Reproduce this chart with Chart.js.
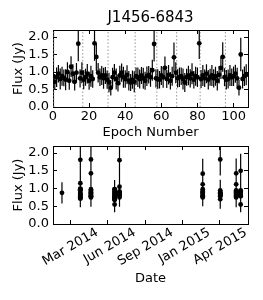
<!DOCTYPE html>
<html>
<head>
<meta charset="utf-8">
<script src="https://cdn.jsdelivr.net/npm/chart.js@4.4.1/dist/chart.umd.min.js"></script>
<style>
html, body { margin: 0; padding: 0; background: #fff; }
#wrap { position: relative; width: 263px; height: 300px; }
canvas { position: absolute; left: 0; }
#topChart { top: 0; }
#bottomChart { top: 140px; }
</style>
</head>
<body>
<div id="wrap">
  <canvas id="topChart" width="263" height="145"></canvas>
  <canvas id="bottomChart" width="263" height="160"></canvas>
</div>
<script>
// Flux per epoch (Jy)
const flux = [
  0.88, 0.72, 0.85, 0.95, 0.80, 0.88, 0.83, 0.78, 1.00, 0.75,
  1.15, 0.95, 0.72, 0.98, 1.81, 0.82, 0.98, 0.78, 0.85, 0.95,
  0.75, 0.88, 0.80, 1.82, 1.43, 0.98, 0.85, 0.90, 0.82, 0.90,
  0.78, 0.70, 0.55, 0.85, 0.98, 0.80, 0.68, 0.90, 0.98, 0.85,
  0.80, 0.92, 0.75, 0.70, 0.78, 0.72, 0.88, 0.85, 0.80, 0.90,
  0.82, 0.75, 0.88, 0.92, 0.85, 1.05, 1.80, 0.82, 0.80, 0.78,
  0.90, 0.85, 1.12, 0.80, 0.92, 0.75, 0.88, 1.42, 0.98, 0.82,
  0.85, 0.88, 0.80, 0.70, 0.85, 0.90, 0.82, 0.95, 0.78, 0.88,
  0.85, 1.82, 0.80, 0.90, 0.82, 0.95, 0.78, 0.85, 0.90, 0.82,
  0.88, 0.75, 0.92, 1.12, 1.43, 0.85, 0.78, 0.80, 0.90, 0.85,
  0.88, 0.95, 0.82, 0.55, 1.50, 0.80, 0.88, 0.92
];

// 1-sigma errors (Jy)
const fluxErr = [
  0.30, 0.22, 0.28, 0.25, 0.30, 0.27, 0.24, 0.30, 0.28, 0.26,
  0.30, 0.27, 0.25, 0.28, 0.50, 0.26, 0.30, 0.27, 0.24, 0.28,
  0.26, 0.30, 0.25, 0.50, 0.40, 0.28, 0.25, 0.27, 0.30, 0.24,
  0.26, 0.28, 0.22, 0.27, 0.25, 0.30, 0.24, 0.28, 0.26, 0.30,
  0.25, 0.27, 0.28, 0.24, 0.26, 0.30, 0.25, 0.28, 0.27, 0.24,
  0.30, 0.26, 0.28, 0.25, 0.27, 0.30, 0.50, 0.26, 0.28, 0.25,
  0.27, 0.30, 0.32, 0.26, 0.28, 0.25, 0.27, 0.42, 0.30, 0.26,
  0.28, 0.25, 0.30, 0.27, 0.24, 0.28, 0.26, 0.30, 0.25, 0.27,
  0.28, 0.45, 0.26, 0.30, 0.25, 0.27, 0.28, 0.24, 0.30, 0.26,
  0.27, 0.28, 0.25, 0.32, 0.42, 0.26, 0.28, 0.27, 0.30, 0.25,
  0.28, 0.26, 0.30, 0.22, 0.48, 0.27, 0.28, 0.30
];

// Observing sessions: first epoch of each and its date (days since 2014-01-01)
const sessionStarts = [0, 1, 17, 31, 46, 58, 69, 82, 96];
const sessionDays = [39, 84, 110, 168, 180, 384, 427, 466, 477];

// Date axis ticks (days since 2014-01-01) and their labels
const dateTickDays = [59, 151, 243, 334, 424];
const dateTickLabels = ['Mar 2014', 'Jun 2014', 'Sep 2014', 'Jan 2015', 'Apr 2015'];

const epochTicks = [0, 20, 40, 60, 80, 100];
const fluxTicks = [0.0, 0.5, 1.0, 1.5, 2.0];

const FLUX_MAX = 2.2;

Chart.defaults.font.family = 'DejaVu Sans';
Chart.defaults.color = '#000';

// date of each epoch, from the session it belongs to
function epochDay(i) {
  let d = sessionDays[0];
  sessionStarts.forEach((s, k) => { if (i >= s) d = sessionDays[k]; });
  return d;
}

// vertical segments broken by nulls, so one line dataset draws many bars
function errorSegments(xs) {
  const pts = [];
  xs.forEach((x, i) => {
    pts.push({ x: x, y: flux[i] - fluxErr[i] });
    pts.push({ x: x, y: flux[i] + fluxErr[i] });
    pts.push({ x: x, y: null });
  });
  return pts;
}

const epochs = flux.map((f, i) => i);
const days = flux.map((f, i) => epochDay(i));

const breakLines = [];
sessionStarts.slice(1).forEach(s => {
  breakLines.push({ x: s - 0.5, y: 0 });
  breakLines.push({ x: s - 0.5, y: FLUX_MAX });
  breakLines.push({ x: s - 0.5, y: null });
});

function pointsSet(xs) {
  return {
    data: xs.map((x, i) => ({ x: x, y: flux[i] })),
    showLine: false,
    pointRadius: 2.4,
    pointBackgroundColor: '#000',
    pointBorderColor: '#000',
    pointBorderWidth: 0
  };
}

function errorSet(xs) {
  return {
    data: errorSegments(xs),
    showLine: true,
    spanGaps: false,
    borderColor: '#000',
    borderWidth: 1.2,
    pointRadius: 0
  };
}

// inward ticks on all four sides, boxed frame
function axisBase(extra) {
  return Object.assign({
    type: 'linear',
    grid: { drawOnChartArea: false, drawTicks: true, tickLength: -4, color: '#000', lineWidth: 1 },
    border: { display: true, color: '#000', width: 1 }
  }, extra);
}

function yAxes() {
  return {
    y: axisBase({
      position: 'left',
      min: 0, max: FLUX_MAX,
      afterBuildTicks: s => { s.ticks = fluxTicks.map(v => ({ value: v })); },
      afterFit: s => { s.width = 53; s.paddingTop = 0; s.paddingBottom = 0; },
      ticks: { font: { size: 13 }, padding: 8, autoSkip: false, callback: v => v.toFixed(1) },
      title: { display: true, text: 'Flux (Jy)', font: { size: 13 }, padding: { top: 11, bottom: 0 } }
    }),
    y2: axisBase({
      position: 'right',
      min: 0, max: FLUX_MAX,
      afterBuildTicks: s => { s.ticks = fluxTicks.map(v => ({ value: v })); },
      afterFit: s => { s.width = 0; s.paddingTop = 0; s.paddingBottom = 0; },
      ticks: { display: false, autoSkip: false }
    })
  };
}

const baseOptions = {
  responsive: false,
  animation: false,
  events: [],
  plugins: { legend: { display: false }, tooltip: { enabled: false } }
};

// Top panel: flux vs epoch
new Chart(document.getElementById('topChart'), {
  type: 'scatter',
  data: {
    datasets: [
      pointsSet(epochs),
      errorSet(epochs),
      {
        data: breakLines,
        showLine: true,
        spanGaps: false,
        borderColor: '#999',
        borderWidth: 1,
        borderDash: [1.5, 2],
        pointRadius: 0
      }
    ]
  },
  options: Object.assign({}, baseOptions, {
    layout: { padding: { top: 0, right: 15, left: 0, bottom: 0 } },
    scales: Object.assign({
      x: axisBase({
        position: 'bottom',
        min: 0, max: 108,
        afterBuildTicks: s => { s.ticks = epochTicks.map(v => ({ value: v })); },
        afterFit: s => { s.height = 38; },
        ticks: { font: { size: 13 }, padding: 6, autoSkip: false },
        title: { display: true, text: 'Epoch Number', font: { size: 13 }, padding: { top: 0, bottom: 5 } }
      }),
      // top axis carries the inward ticks and the plot title, centred on the plot area
      x2: axisBase({
        position: 'top',
        min: 0, max: 108,
        afterBuildTicks: s => { s.ticks = epochTicks.map(v => ({ value: v })); },
        afterFit: s => { s.height = 30; },
        ticks: { display: false, autoSkip: false },
        title: { display: true, text: 'J1456-6843', font: { size: 15 }, padding: { top: 9, bottom: 0 } }
      })
    }, yAxes())
  })
});

// Bottom panel: flux vs date
new Chart(document.getElementById('bottomChart'), {
  type: 'scatter',
  data: {
    datasets: [
      pointsSet(days),
      errorSet(days)
    ]
  },
  options: Object.assign({}, baseOptions, {
    layout: { padding: { top: 6, right: 15, left: 0, bottom: 0 } },
    scales: Object.assign({
      x: axisBase({
        position: 'bottom',
        min: 17, max: 495,
        afterBuildTicks: s => { s.ticks = dateTickDays.map(v => ({ value: v })); },
        afterCalculateLabelRotation: s => { s.labelRotation = 30; },
        afterFit: s => { s.height = 76; s.paddingLeft = 0; s.paddingRight = 0; },
        ticks: {
          font: { size: 13 },
          padding: 5,
          autoSkip: false,
          minRotation: 30,
          maxRotation: 30,
          labelOffset: 27,
          callback: (v, i) => dateTickLabels[i]
        },
        title: { display: true, text: 'Date', font: { size: 13 }, padding: { top: 0, bottom: 14 } }
      }),
      x2: axisBase({
        position: 'top',
        min: 17, max: 495,
        afterBuildTicks: s => { s.ticks = dateTickDays.map(v => ({ value: v })); },
        afterFit: s => { s.height = 0; },
        ticks: { display: false, autoSkip: false }
      })
    }, yAxes())
  })
});
</script>
</body>
</html>
